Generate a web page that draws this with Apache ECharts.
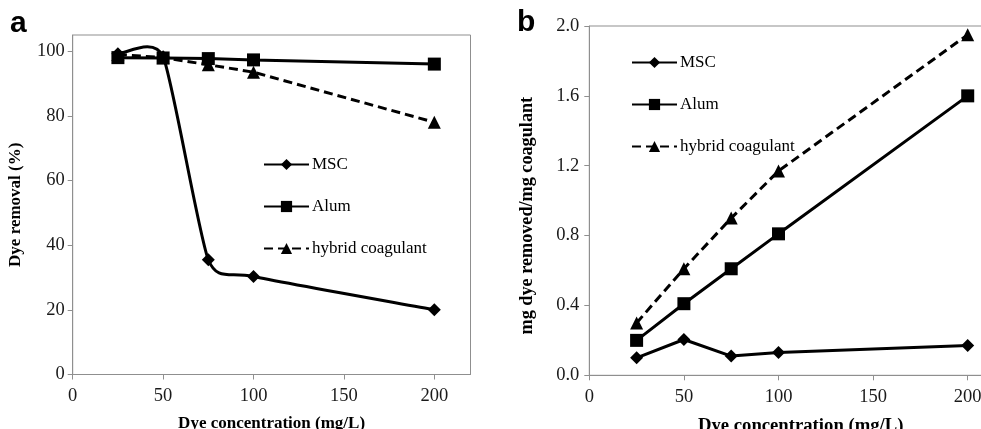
<!DOCTYPE html>
<html>
<head>
<meta charset="utf-8">
<script src="https://cdn.jsdelivr.net/npm/echarts@6/dist/echarts.min.js"></script>
<style>
  html, body { margin: 0; padding: 0; background: #ffffff; }
  #chart { width: 981px; height: 429px; }
</style>
</head>
<body>
<div id="chart"></div>
<script>
// Dye concentrations tested (mg/L)
const concentrations = [25, 50, 75, 100, 200];

// Panel a: dye removal (%)
const removalMSC = [99.2, 98.3, 35.5, 30.3, 20.0];
const removalAlum = [98.0, 97.9, 97.7, 97.3, 96.0];
const removalHybrid = [99.0, 98.0, 95.8, 93.5, 78.0];

// Panel b: mg dye removed per mg coagulant
const capacityMSC = [0.10, 0.205, 0.11, 0.13, 0.17];
const capacityAlum = [0.20, 0.41, 0.61, 0.81, 1.60];
const capacityHybrid = [0.30, 0.61, 0.90, 1.17, 1.95];

// Tick labels
const xTicks = [0, 50, 100, 150, 200];
const removalTicks = [0, 20, 40, 60, 80, 100];
const capacityTicks = [0, 0.4, 0.8, 1.2, 1.6, 2.0];

const seriesNames = ['MSC', 'Alum', 'hybrid coagulant'];

const serif = '"Liberation Serif", "Times New Roman", serif';
const sans = '"Liberation Sans", Arial, sans-serif';
const axisGray = '#8f8f8f';
const ink = '#000000';

function pairs(values) {
  return concentrations.map((c, i) => [c, values[i]]);
}

function xAxis(gridIndex, max, nameSize, namePad) {
  return {
    type: 'value', gridIndex, min: 0, max, interval: 50,
    name: 'Dye concentration (mg/L)', nameLocation: 'middle', nameGap: 41,
    nameTextStyle: { fontFamily: serif, fontWeight: 'bold', fontSize: nameSize, color: ink, padding: namePad },
    axisLine: { show: true, lineStyle: { color: axisGray, width: 1 } },
    axisTick: { show: true, length: 5, customValues: xTicks, lineStyle: { color: axisGray } },
    axisLabel: { customValues: xTicks, margin: 12, fontFamily: serif, fontSize: 18.5, color: '#1a1a1a' },
    splitLine: { show: false }
  };
}

function yAxis(gridIndex, max, ticks, name, gap, margin, nameSize, namePad, fmt) {
  return {
    type: 'value', gridIndex, min: 0, max,
    name, nameLocation: 'middle', nameGap: gap,
    nameTextStyle: { fontFamily: serif, fontWeight: 'bold', fontSize: nameSize, color: ink, padding: namePad },
    axisLine: { show: true, lineStyle: { color: axisGray, width: 1 } },
    axisTick: { show: true, length: 5, customValues: ticks, lineStyle: { color: axisGray } },
    axisLabel: { customValues: ticks, margin, fontFamily: serif, fontSize: 18.5, color: '#1a1a1a', formatter: fmt },
    splitLine: { show: false }
  };
}

const markStyles = {
  'MSC': { symbol: 'diamond', symbolSize: 13, type: 'solid' },
  'Alum': { symbol: 'rect', symbolSize: 13, type: 'solid' },
  'hybrid coagulant': { symbol: 'triangle', symbolSize: 13, type: [9, 5] }
};

function makeSeries(name, values, axisIndex, z, hideLine) {
  const st = markStyles[name];
  return {
    name, type: 'line', xAxisIndex: axisIndex, yAxisIndex: axisIndex,
    data: pairs(values),
    symbol: st.symbol, symbolSize: st.symbolSize,
    itemStyle: { color: ink },
    lineStyle: { color: ink, width: 3, type: st.type, opacity: hideLine ? 0 : 1 },
    z
  };
}

// Smoothed curve through the points: cubic Bezier segments whose handles follow
// the neighbouring points (1/6 of the chord), capped at half the adjacent segment.
function smoothCurveSeries(values, axisIndex, z) {
  const data = pairs(values);
  return {
    type: 'custom', xAxisIndex: axisIndex, yAxisIndex: axisIndex,
    data, silent: true, z,
    renderItem(params, api) {
      const i = params.dataIndex;
      if (i >= data.length - 1) return null;
      const P = data.map(d => api.coord(d));
      const dist = (a, b) => Math.hypot(b[0] - a[0], b[1] - a[1]);
      const handle = (k) => {
        const prev = P[Math.max(k - 1, 0)];
        const next = P[Math.min(k + 1, P.length - 1)];
        const dx = next[0] - prev[0], dy = next[1] - prev[1];
        const chord = Math.hypot(dx, dy);
        if (chord === 0) return [0, 0];
        let len = chord / 6;
        if (k > 0) len = Math.min(len, dist(P[k - 1], P[k]) / 2);
        if (k < P.length - 1) len = Math.min(len, dist(P[k], P[k + 1]) / 2);
        return [dx / chord * len, dy / chord * len];
      };
      const h0 = handle(i), h1 = handle(i + 1);
      const a = P[i], b = P[i + 1];
      return {
        type: 'bezierCurve',
        shape: {
          x1: a[0], y1: a[1], x2: b[0], y2: b[1],
          cpx1: a[0] + h0[0], cpy1: a[1] + h0[1],
          cpx2: b[0] - h1[0], cpy2: b[1] - h1[1]
        },
        style: { stroke: ink, lineWidth: 3, fill: null }
      };
    }
  };
}

function legend(left, top) {
  return {
    data: seriesNames, orient: 'vertical', left, top,
    itemWidth: 45, itemHeight: 14, itemGap: 25, selectedMode: false,
    textStyle: { fontFamily: serif, fontSize: 17, color: ink, padding: [0, 0, 0, -2] }
  };
}

const chart = echarts.init(document.getElementById('chart'), null, { renderer: 'canvas' });

chart.setOption({
  animation: false,
  backgroundColor: '#ffffff',
  grid: [
    { left: 72.7, top: 35, right: 510.5, bottom: 54.5, outerBoundsMode: 'none', show: true, borderColor: axisGray, borderWidth: 1, backgroundColor: 'transparent' },
    { left: 589.3, top: 26, width: 406.8, bottom: 53.7, outerBoundsMode: 'none', show: true, borderColor: axisGray, borderWidth: 1, backgroundColor: 'transparent' }
  ],
  xAxis: [xAxis(0, 220, 17, 0), xAxis(1, 215, 18.7, [0, 0, 0, 16])],
  yAxis: [
    yAxis(0, 105, removalTicks, 'Dye removal (%)', 49, 8, 17, 0, v => String(v)),
    yAxis(1, 2.0, capacityTicks, 'mg dye removed/mg coagulant', 53, 10, 18.2, [0, 30, 0, 0], v => v.toFixed(1))
  ],
  legend: [legend(258, 151), legend(626, 49)],
  title: [
    { text: 'a', left: 5, top: 4, textStyle: { fontFamily: sans, fontWeight: 'bold', fontSize: 30, color: ink } },
    { text: 'b', left: 512, top: 3, textStyle: { fontFamily: sans, fontWeight: 'bold', fontSize: 30, color: ink } }
  ],
  series: [
    // panel b
    makeSeries('MSC', capacityMSC, 1, 3, false),
    makeSeries('Alum', capacityAlum, 1, 4, false),
    makeSeries('hybrid coagulant', capacityHybrid, 1, 2, false),
    // panel a
    makeSeries('hybrid coagulant', removalHybrid, 0, 2, false),
    smoothCurveSeries(removalMSC, 0, 3),
    makeSeries('MSC', removalMSC, 0, 3, true),
    makeSeries('Alum', removalAlum, 0, 4, false)
  ]
});
</script>
</body>
</html>
